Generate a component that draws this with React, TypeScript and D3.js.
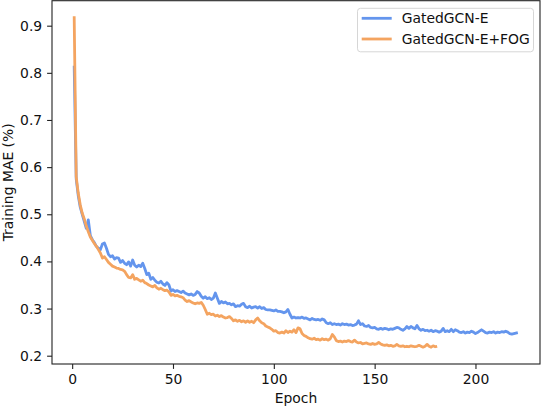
import React, { useEffect, useRef } from "react";
import * as d3 from "d3";

const blueLabel = "GatedGCN-E";
const orangeLabel = "GatedGCN-E+FOG";

const blueValues: number[] = [
  0.815, 0.575, 0.54, 0.515, 0.5, 0.485, 0.47, 0.488, 0.455, 0.446,
  0.44, 0.432, 0.428, 0.425, 0.437, 0.439, 0.428, 0.415, 0.41, 0.412,
  0.405, 0.408, 0.407, 0.398, 0.402, 0.396, 0.393, 0.399, 0.39, 0.403,
  0.392, 0.388, 0.392, 0.389, 0.396, 0.385, 0.372, 0.375, 0.362, 0.366,
  0.36, 0.356, 0.354, 0.358, 0.352, 0.349, 0.355, 0.35, 0.337, 0.34,
  0.336, 0.338, 0.336, 0.334, 0.337, 0.333, 0.331, 0.329, 0.331, 0.328,
  0.33, 0.336, 0.333, 0.326, 0.322, 0.325, 0.321, 0.323, 0.319, 0.322,
  0.333, 0.322, 0.311, 0.315, 0.312, 0.314, 0.31, 0.311, 0.308, 0.31,
  0.304, 0.306, 0.305, 0.309, 0.311, 0.304, 0.302, 0.305, 0.301, 0.303,
  0.304, 0.301, 0.304, 0.3, 0.302, 0.298, 0.297, 0.297, 0.296, 0.295,
  0.297, 0.294, 0.294, 0.293, 0.291, 0.293, 0.298, 0.288, 0.28, 0.282,
  0.28, 0.281, 0.28, 0.282, 0.279, 0.28, 0.278, 0.276, 0.279, 0.277,
  0.276, 0.277, 0.275, 0.278, 0.276, 0.27, 0.268, 0.27, 0.266, 0.268,
  0.266, 0.267, 0.265, 0.268, 0.266, 0.267, 0.265, 0.266, 0.264, 0.265,
  0.267, 0.274, 0.266, 0.268, 0.263, 0.262, 0.264, 0.26, 0.259, 0.26,
  0.257, 0.256, 0.258, 0.256, 0.258, 0.257, 0.255, 0.257, 0.256, 0.258,
  0.26, 0.259, 0.256, 0.254, 0.257, 0.262, 0.258, 0.262, 0.259, 0.257,
  0.264, 0.257, 0.254, 0.256, 0.253, 0.254, 0.252, 0.254, 0.251, 0.253,
  0.252, 0.25, 0.252, 0.258, 0.251, 0.253, 0.251, 0.256, 0.251, 0.255,
  0.253, 0.25, 0.249, 0.251, 0.248, 0.25, 0.249, 0.252, 0.25, 0.247,
  0.249, 0.252, 0.255, 0.252, 0.249, 0.248, 0.25, 0.249, 0.251, 0.248,
  0.25, 0.249, 0.251, 0.25, 0.252, 0.25, 0.247, 0.246, 0.247, 0.248,
  0.249,
];

const orangeValues: number[] = [
  0.92, 0.58, 0.545, 0.52, 0.502, 0.49, 0.475, 0.463, 0.452, 0.445,
  0.438, 0.432, 0.425, 0.418, 0.407, 0.41, 0.404, 0.398, 0.394, 0.39,
  0.388, 0.386, 0.385, 0.383, 0.382, 0.379, 0.372, 0.366, 0.365, 0.372,
  0.362, 0.364, 0.361, 0.358, 0.36, 0.355, 0.353, 0.35, 0.348, 0.346,
  0.349, 0.344, 0.341, 0.343, 0.34, 0.338, 0.339, 0.335, 0.328, 0.33,
  0.327, 0.328, 0.326, 0.325, 0.323, 0.318, 0.315, 0.317, 0.314, 0.312,
  0.31, 0.312, 0.311, 0.313, 0.307, 0.298, 0.288, 0.29, 0.287, 0.288,
  0.284, 0.286, 0.283, 0.285, 0.282, 0.28, 0.281, 0.283, 0.279, 0.274,
  0.276, 0.273, 0.275, 0.272, 0.274, 0.271, 0.274, 0.271, 0.273, 0.27,
  0.276, 0.28, 0.274, 0.27, 0.268, 0.263, 0.261, 0.259, 0.256, 0.252,
  0.253, 0.249, 0.248, 0.25, 0.248, 0.253, 0.249, 0.252, 0.25, 0.255,
  0.249, 0.259, 0.257, 0.247, 0.243, 0.241, 0.238, 0.236, 0.235, 0.237,
  0.234, 0.235, 0.233, 0.236, 0.234, 0.235, 0.233, 0.236, 0.245, 0.24,
  0.232, 0.23, 0.231, 0.229, 0.231, 0.23, 0.232, 0.23, 0.229, 0.233,
  0.229, 0.227, 0.228, 0.225, 0.226, 0.227, 0.225, 0.224, 0.226, 0.224,
  0.225, 0.228, 0.225, 0.223, 0.222, 0.223, 0.221, 0.222, 0.22, 0.221,
  0.224, 0.221, 0.22, 0.221, 0.219, 0.22, 0.219, 0.221, 0.22, 0.219,
  0.22, 0.222, 0.22, 0.218, 0.22, 0.224, 0.22, 0.218, 0.221, 0.219,
  0.22,
];

const xTicks = [0, 50, 100, 150, 200];
const yTicks = [0.2, 0.3, 0.4, 0.5, 0.6, 0.7, 0.8, 0.9];

const W = 542;
const H = 408;
const M = { left: 52, right: 2, top: 0.7, bottom: 44 };
const FONT = "'DejaVu Sans', sans-serif";
const FS = 13.9;

export default function App() {
  const ref = useRef<SVGSVGElement>(null);

  useEffect(() => {
    const svg = d3.select(ref.current);
    svg.selectAll("*").remove();

    const x = d3.scaleLinear().domain([-10, 232]).range([M.left, W - M.right]);
    const y = d3.scaleLinear().domain([0.1824, 0.953]).range([H - M.bottom, M.top]);

    const line = d3
      .line<number>()
      .x((_, i) => x(i + 1))
      .y((d) => y(d));

    const g = svg.append("g");

    g.append("path")
      .datum(blueValues)
      .attr("d", line)
      .attr("fill", "none")
      .attr("stroke", "#6495ED")
      .attr("stroke-width", 2.8)
      .attr("stroke-linejoin", "round");

    g.append("path")
      .datum(orangeValues)
      .attr("d", line)
      .attr("fill", "none")
      .attr("stroke", "#F4A460")
      .attr("stroke-width", 2.8)
      .attr("stroke-linejoin", "round");

    // spines
    svg
      .append("rect")
      .attr("x", M.left)
      .attr("y", M.top)
      .attr("width", W - M.right - M.left)
      .attr("height", H - M.bottom - M.top)
      .attr("fill", "none")
      .attr("stroke", "#222")
      .attr("stroke-width", 1.1);

    const xAxis = d3.axisBottom(x).tickValues(xTicks).tickSize(4.9).tickPadding(4.9).tickFormat(d3.format("d"));
    const xg = svg.append("g").attr("transform", `translate(0,${H - M.bottom})`).call(xAxis);
    xg.select(".domain").remove();

    const yAxis = d3.axisLeft(y).tickValues(yTicks).tickSize(4.9).tickPadding(4.9).tickFormat(d3.format(".1f"));
    const yg = svg.append("g").attr("transform", `translate(${M.left},0)`).call(yAxis);
    yg.select(".domain").remove();

    svg.selectAll(".tick line").attr("stroke", "#222").attr("stroke-width", 1.1);
    svg
      .selectAll(".tick text")
      .attr("font-family", FONT)
      .attr("font-size", FS)
      .attr("fill", "#111");
    xg.selectAll(".tick text").attr("dy", null).attr("y", 19.8);

    svg
      .append("text")
      .attr("x", (M.left + W - M.right) / 2)
      .attr("y", 403.4)
      .attr("text-anchor", "middle")
      .attr("font-family", FONT)
      .attr("font-size", FS)
      .attr("fill", "#111")
      .text("Epoch");

    svg
      .append("text")
      .attr("transform", `translate(12.8,${(M.top + H - M.bottom) / 2}) rotate(-90)`)
      .attr("text-anchor", "middle")
      .attr("font-family", FONT)
      .attr("font-size", FS)
      .attr("fill", "#111")
      .text("Training MAE (%)");

    // legend
    const lg = svg.append("g");
    lg.append("rect")
      .attr("x", 357.5)
      .attr("y", 8.3)
      .attr("width", 176)
      .attr("height", 43.5)
      .attr("rx", 3)
      .attr("fill", "white")
      .attr("fill-opacity", 0.8)
      .attr("stroke", "#d6d6d6")
      .attr("stroke-width", 1);
    const items = [
      { label: blueLabel, color: "#6495ED", yy: 18.3 },
      { label: orangeLabel, color: "#F4A460", yy: 39 },
    ];
    items.forEach((it) => {
      lg.append("line")
        .attr("x1", 361.7)
        .attr("x2", 391.7)
        .attr("y1", it.yy)
        .attr("y2", it.yy)
        .attr("stroke", it.color)
        .attr("stroke-width", 2.8);
      lg.append("text")
        .attr("x", 401.7)
        .attr("y", it.yy + 4.5)
        .attr("font-family", FONT)
        .attr("font-size", FS)
        .attr("fill", "#111")
        .text(it.label);
    });
  }, []);

  return (
    <svg
      ref={ref}
      width={W}
      height={H}
      style={{ position: "absolute", left: 0, top: 0, background: "white" }}
    />
  );
}
